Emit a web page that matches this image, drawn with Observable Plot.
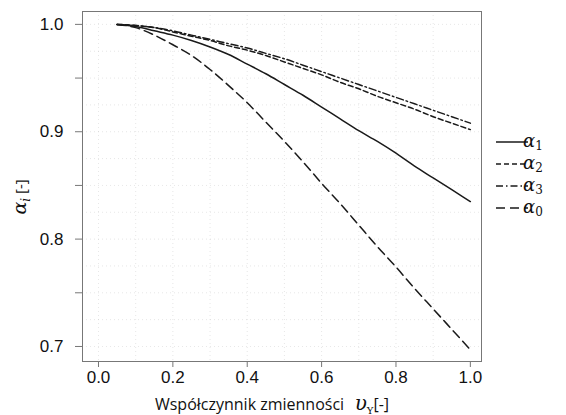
<!DOCTYPE html>
<html>
<head>
<meta charset="utf-8">
<script src="https://cdn.jsdelivr.net/npm/d3@7"></script>
<script src="https://cdn.jsdelivr.net/npm/@observablehq/plot@0.6"></script>
<style>
  html, body { margin: 0; padding: 0; background: #fff; }
  #chart { width: 566px; height: 415px; }
</style>
</head>
<body>
<div id="chart"></div>
<script>
// Coefficient of variation υ_Y
const v = [0.05, 0.10, 0.15, 0.20, 0.25, 0.30, 0.35, 0.40, 0.45, 0.50,
           0.55, 0.60, 0.65, 0.70, 0.75, 0.80, 0.85, 0.90, 0.95, 1.00];

// α_1 (solid)
const a1 = [1.000, 0.998, 0.994, 0.990, 0.985, 0.979, 0.972, 0.963, 0.954, 0.944,
            0.934, 0.923, 0.912, 0.901, 0.891, 0.880, 0.868, 0.857, 0.846, 0.835];
// α_2 (short dashes)
const a2 = [1.000, 0.999, 0.997, 0.993, 0.989, 0.985, 0.980, 0.976, 0.971, 0.965,
            0.959, 0.953, 0.946, 0.940, 0.933, 0.927, 0.921, 0.914, 0.908, 0.902];
// α_3 (dash-dot)
const a3 = [1.000, 0.999, 0.997, 0.994, 0.990, 0.986, 0.982, 0.978, 0.973, 0.968,
            0.962, 0.956, 0.950, 0.944, 0.938, 0.932, 0.926, 0.920, 0.914, 0.908];
// α_0 (long dashes)
const a0 = [1.000, 0.997, 0.990, 0.981, 0.971, 0.958, 0.943, 0.927, 0.909, 0.891,
            0.872, 0.852, 0.833, 0.813, 0.793, 0.774, 0.754, 0.735, 0.716, 0.697];

const xTicks = [0.0, 0.2, 0.4, 0.6, 0.8, 1.0];
const yTicks = [0.70, 0.75, 0.80, 0.85, 0.90, 0.95, 1.00];
const gridX = [0.0, 0.1, 0.2, 0.3, 0.4, 0.5, 0.6, 0.7, 0.8, 0.9];
const gridY = [0.70, 0.725, 0.75, 0.775, 0.80, 0.825, 0.85, 0.875, 0.90, 0.925, 0.95, 0.975, 1.00];

// series: key, values, dash pattern
const series = [
  {key: "1", values: a1, dash: null},
  {key: "2", values: a2, dash: "5,3"},
  {key: "3", values: a3, dash: "7,3,1.5,3"},
  {key: "0", values: a0, dash: "9,5"}
];

const rows = series.flatMap(s => v.map((x, i) => ({series: s.key, v: x, a: s.values[i]})));

const lineMarks = series.map(s =>
  Plot.line(rows.filter(d => d.series === s.key), {
    x: "v", y: "a", stroke: "#1a1a1a", strokeWidth: 1.5,
    strokeDasharray: s.dash || undefined, curve: "monotone-x"
  })
);

const chart = Plot.plot({
  width: 566,
  height: 415,
  marginLeft: 82,
  marginRight: 85,
  marginTop: 11,
  marginBottom: 54,
  style: {fontFamily: "Liberation Sans, Arial, sans-serif", fontSize: "16px", background: "#fff", color: "#111"},
  x: {domain: [-0.043, 1.03]},
  y: {domain: [0.686, 1.012]},
  marks: [
    Plot.ruleX(gridX, {stroke: "#bbb", strokeOpacity: 0.35, strokeDasharray: "1,3"}),
    Plot.ruleY(gridY, {stroke: "#bbb", strokeOpacity: 0.35, strokeDasharray: "1,3"}),
    Plot.frame({stroke: "#777", strokeWidth: 1}),
    Plot.axisY(yTicks, {
      tickFormat: d => (Math.round(d * 100) % 10 === 0 ? d.toFixed(1) : ""),
      tickSize: 7, tickPadding: 12, label: null, stroke: "#777", fill: "#111", fontSize: 17
    }),
    Plot.axisX(xTicks, {
      tickFormat: d => d.toFixed(1),
      tickSize: 6, tickPadding: 3, label: null, stroke: "#777", fill: "#111", fontSize: 17
    }),
    ...lineMarks
  ]
});

document.getElementById("chart").appendChild(chart);

const svg = d3.select(chart);
const mathFont = "DejaVu Serif, Liberation Serif, serif";

// Legend
const legend = svg.append("g").attr("transform", "translate(496,142)");
series.forEach((s, i) => {
  const g = legend.append("g").attr("transform", `translate(0,${i * 22})`);
  g.append("line")
    .attr("x1", 0).attr("x2", 32).attr("y1", 0).attr("y2", 0)
    .attr("stroke", "#1a1a1a").attr("stroke-width", 1.5)
    .attr("stroke-dasharray", s.dash);
  const t = g.append("text")
    .attr("x", 37).attr("y", 5)
    .attr("font-family", mathFont).attr("font-size", 18).attr("fill", "#111");
  t.append("tspan").attr("font-style", "italic").text("α");
  t.append("tspan").attr("font-size", 12).attr("dy", 3).text(s.key);
});

// Y axis title
const yl = svg.append("text")
  .attr("transform", "translate(26,197) rotate(-90)")
  .attr("text-anchor", "middle")
  .attr("font-family", mathFont).attr("font-size", 19).attr("fill", "#111");
yl.append("tspan").attr("font-style", "italic").text("α");
yl.append("tspan").attr("font-style", "italic").attr("font-size", 12).attr("dy", 4).text("i");
yl.append("tspan").attr("dy", -4).attr("font-family", "Open Sans, sans-serif").attr("font-size", 15).text(" [-]");

// X axis title
const xl = svg.append("text")
  .attr("x", 272).attr("y", 410)
  .attr("text-anchor", "middle")
  .attr("font-family", "Open Sans, sans-serif").attr("font-size", 16).attr("fill", "#111");
xl.append("tspan").text("Współczynnik zmienności ");
xl.append("tspan").attr("font-family", mathFont).attr("font-style", "italic").attr("font-size", 20).text(" υ");
xl.append("tspan").attr("font-family", mathFont).attr("font-size", 10).attr("dy", 4).text("Y");
xl.append("tspan").attr("dy", -4).text("[-]");
</script>
</body>
</html>
